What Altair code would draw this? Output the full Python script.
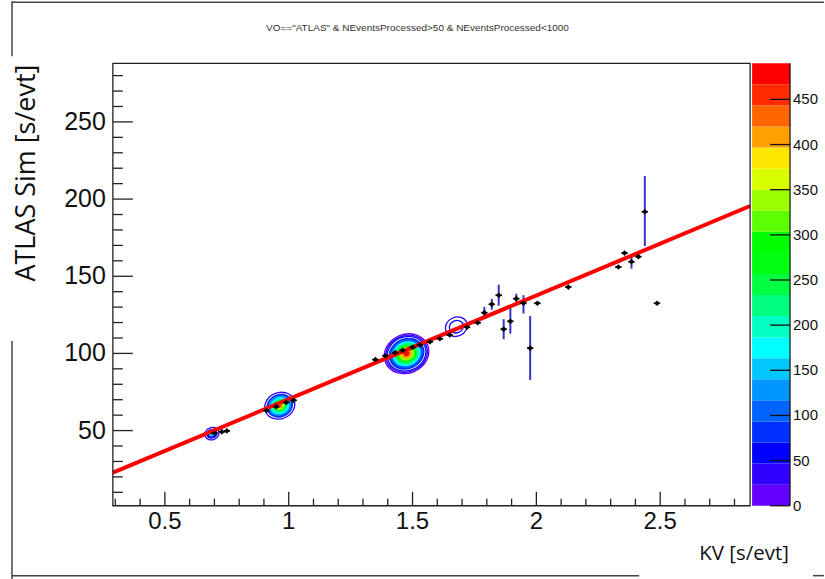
import altair as alt
import pandas as pd

TITLE = 'VO=="ATLAS" & NEventsProcessed>50 & NEventsProcessed<1000'
Y_TITLE = "ATLAS Sim [s/evt]"
X_TITLE = "KV [s/evt]"

# profile bins away from the dense clusters (mean, lower and upper error)
prof_x = [1.763, 1.790, 1.820, 1.848, 1.868, 1.895, 1.919, 1.948, 1.975, 2.004,
          2.129, 2.331, 2.356, 2.384, 2.412, 2.438, 2.487]
prof_y = [119.9, 126.4, 131.8, 137.7, 115.7, 120.8, 135.5, 132.5, 103.4, 132.5,
          143.0, 156.0, 165.0, 159.4, 162.7, 191.8, 132.5]
prof_lo = [119.9, 122.6, 128.3, 130.9, 109.2, 112.8, 132.3, 125.8, 82.7, 132.5,
           143.0, 156.0, 165.0, 154.9, 162.7, 169.6, 132.5]
prof_hi = [119.9, 130.2, 135.3, 144.5, 122.2, 130.7, 138.7, 137.7, 124.3, 132.5,
           143.0, 156.0, 165.0, 163.6, 162.7, 214.9, 132.5]

# profile bins sitting on the dense clusters
dense_x = [0.70, 0.73, 0.75, 0.91, 0.95, 0.99, 1.02, 1.35, 1.39, 1.43, 1.46,
           1.50, 1.53, 1.57, 1.61, 1.65, 1.72]
dense_y = [48.3, 49.2, 49.8, 63.0, 65.5, 68.2, 69.6, 96.0, 98.5, 100.5, 102.0,
           104.0, 105.5, 107.5, 109.5, 112.0, 117.0]

# linear fit
fit_x = [0.29, 2.863]
fit_y = [22.7, 195.5]

# 2D density clusters: centre, contour half-width (in KV units), level, filled
c1_hw = [0.029, 0.023, 0.013]
c1_z = [30, 60, 150]
c1_fill = [False, True, True]
c2_hw = [0.062, 0.055, 0.047, 0.039, 0.030, 0.020, 0.010]
c2_z = [30, 70, 130, 175, 250, 330, 420]
c2_fill = [False, True, True, True, True, True, True]
c3_hw = [0.092, 0.086, 0.080, 0.074, 0.066, 0.058, 0.050, 0.041, 0.032, 0.022, 0.012]
c3_z = [20, 35, 50, 75, 115, 165, 215, 275, 345, 405, 470]
c3_fill = [False, False, False, True, True, True, True, True, True, True, True]
c4_hw = [0.045, 0.029]
c4_z = [30, 50]
c4_fill = [False, False]
blob_x = [0.690, 0.964, 1.476, 1.677]
blob_y = [48.0, 66.1, 99.8, 117.3]

# colour palette levels (bottom to top)
cbar_edges = [0, 23.3, 46.7, 70, 93.3, 116.7, 140, 163.3, 186.7, 210, 233.3,
              256.7, 280, 303.3, 326.7, 350, 373.3, 396.7, 420, 443.3, 466.7, 490]
cbar_colors = ["#6400ff", "#3000ff", "#0000ff", "#0030ff", "#0064ff", "#0096ff",
               "#00c8ff", "#00ffff", "#00ffc0", "#00ff80", "#00ff40", "#00ff10",
               "#00ff00", "#5cff00", "#9cff00", "#d8ff00", "#ffe600", "#ffa000",
               "#ff6600", "#ff2a00", "#ff0000"]
cbar_ticks = [0, 50, 100, 150, 200, 250, 300, 350, 400, 450]

# axis tick positions
x_major = [0.5, 1.0, 1.5, 2.0, 2.5]
x_minor = [0.3, 0.4, 0.6, 0.7, 0.8, 0.9, 1.1, 1.2, 1.3, 1.4, 1.6, 1.7, 1.8, 1.9,
           2.1, 2.2, 2.3, 2.4, 2.6, 2.7, 2.8]
y_major = [50, 100, 150, 200, 250]
y_minor = [10, 20, 30, 40, 60, 70, 80, 90, 110, 120, 130, 140, 160, 170, 180, 190,
           210, 220, 230, 240, 260, 270, 280]

W, H = 638, 443
FONT = "Liberation Sans"
X0, X1 = 0.29, 2.863    # horizontal range of the pad
Y0, Y1 = 1.3, 288.0     # vertical range of the pad
Z1 = 490.0              # top of the colour scale

# ---------------- tables ----------------
prof = pd.DataFrame({"x": prof_x, "y": prof_y, "lo": prof_lo, "hi": prof_hi})
dense = pd.DataFrame({"x": dense_x, "y": dense_y})
pts = pd.concat([prof[["x", "y"]], dense], ignore_index=True)
fit = pd.DataFrame({"x": fit_x, "y": fit_y})

rows = []
for i, (hws, zs_, fills_) in enumerate([(c1_hw, c1_z, c1_fill), (c2_hw, c2_z, c2_fill),
                                        (c3_hw, c3_z, c3_fill), (c4_hw, c4_z, c4_fill)]):
    for hw, z, f in zip(hws, zs_, fills_):
        rows.append({"x": blob_x[i], "y": blob_y[i], "hw": hw, "z": z, "fill": f})
cont = pd.DataFrame(rows)
cont_fill = cont[cont["fill"]]
cont_line = cont[~cont["fill"]]

cbar = pd.DataFrame({"zlo": cbar_edges[:-1], "zhi": cbar_edges[1:], "col": cbar_colors})
one = pd.DataFrame({"k": [0]})

# inward tick segments: two end points per tick, joined by a short line
tick_rows = []
for name, vals, px, axis in [("xM", x_major, 14, "x"), ("xm", x_minor, 7, "x"),
                             ("yM", y_major, 20, "y"), ("ym", y_minor, 10, "y")]:
    for v in vals:
        if axis == "x":
            tick_rows.append({"id": f"{name}{v}", "x": v, "y": Y0})
            tick_rows.append({"id": f"{name}{v}", "x": v, "y": Y0 + px * (Y1 - Y0) / H})
        else:
            tick_rows.append({"id": f"{name}{v}", "x": X0, "y": v})
            tick_rows.append({"id": f"{name}{v}", "x": X0 + px * (X1 - X0) / W, "y": v})
tick_df = pd.DataFrame(tick_rows)

# ---------------- scales ----------------
xs = alt.Scale(domain=[X0, X1], nice=False, zero=False)
ys = alt.Scale(domain=[Y0, Y1], nice=False, zero=False)
size_s = alt.Scale(type="pow", exponent=2, domain=[0, 0.1], range=[0, 2460], zero=True, nice=False)
col_s = alt.Scale(type="threshold", domain=cbar_edges[1:-1], range=cbar_colors)


def X(f="x"):
    return alt.X(f + ":Q", scale=xs, axis=None)


def Y(f="y"):
    return alt.Y(f + ":Q", scale=ys, axis=None)


# colour-scale values are placed on the pad's vertical range
ZMAP = f"{Y0} + ({Y1} - {Y0}) * datum.{{}} / {Z1}"

ELLIPSE = "M-1,0A1,0.85,0,1,1,1,0A1,0.85,0,1,1,-1,0Z"

# ---------------- canvas and frame ----------------
background = alt.Chart(one).mark_rect(opacity=0).encode(
    x=alt.value(-113), x2=alt.value(712), y=alt.value(-62), y2=alt.value(517))


def seg(x1, x2, y1, y2):
    return alt.Chart(one).mark_rule(color="#444", strokeWidth=1.5).encode(
        x=alt.value(x1), x2=alt.value(x2), y=alt.value(y1), y2=alt.value(y2))


frame = [
    seg(-101, 712, -61, -61),
    seg(-101, -101, -62, -7),
    seg(-101, -101, 278, 517),
    seg(-101, 527, 513, 513),
    seg(701, 712, 513, 513),
]

# ---------------- main plot ----------------
fills = alt.Chart(cont_fill).mark_point(shape=ELLIPSE, filled=True, opacity=1, angle=337).encode(
    x=X(), y=Y(),
    size=alt.Size("hw:Q", scale=size_s, legend=None),
    color=alt.Color("z:Q", scale=col_s, legend=None),
    order=alt.Order("hw:Q", sort="descending"),
)
lines = alt.Chart(cont_line).mark_point(shape=ELLIPSE, filled=False, opacity=1, angle=337,
                                        strokeWidth=1.3).encode(
    x=X(), y=Y(),
    size=alt.Size("hw:Q", scale=size_s, legend=None),
    color=alt.Color("z:Q", scale=col_s, legend=None),
)
errbars = alt.Chart(prof).mark_rule(color="#3535c8", strokeWidth=2).encode(
    x=X(), y=Y("lo"), y2="hi:Q")
fitline = alt.Chart(fit).mark_line(color="#ff0000", strokeWidth=4).encode(x=X(), y=Y())
xerr = alt.Chart(pts).transform_calculate(
    xa="datum.x - 0.013", xb="datum.x + 0.013"
).mark_rule(color="black", strokeWidth=1.6).encode(x=X("xa"), x2="xb:Q", y=Y())
markers = alt.Chart(pts).mark_point(shape="diamond", filled=True, color="black",
                                    opacity=1, size=32).encode(x=X(), y=Y())

ticks = alt.Chart(tick_df).mark_line(color="#222", strokeWidth=1.3).encode(
    x=X(), y=Y(), detail="id:N")

x_lab = alt.Chart(pd.DataFrame({"xl": x_major})).mark_text(
    font=FONT, fontSize=24, color="#111", align="center", baseline="top").encode(
    x=X("xl"), y=alt.value(H + 4), text=alt.Text("xl:Q", format="~g"))
y_lab = alt.Chart(pd.DataFrame({"yl": y_major})).mark_text(
    font=FONT, fontSize=25, color="#111", align="right", baseline="middle").encode(
    y=Y("yl"), x=alt.value(-7), text=alt.Text("yl:Q", format="d"))

# plot frame
box = alt.Chart(one).mark_rect(fillOpacity=0, stroke="#222", strokeWidth=1.3).encode(
    x=alt.value(0), x2=alt.value(W), y=alt.value(0), y2=alt.value(H))

# ---------------- colour bar ----------------
cbar_rect = alt.Chart(cbar).transform_calculate(
    ylo=ZMAP.format("zlo"), yhi=ZMAP.format("zhi")
).mark_rect().encode(
    x=alt.value(640), x2=alt.value(678),
    y=Y("ylo"), y2="yhi:Q",
    color=alt.Color("col:N", scale=None),
)
cbar_tick = alt.Chart(pd.DataFrame({"zt": cbar_ticks})).transform_calculate(
    yt=ZMAP.format("zt")
).mark_tick(orient="horizontal", size=20, thickness=1.3, color="#111", opacity=1).encode(
    y=Y("yt"), x=alt.value(668))
cbar_edge = alt.Chart(one).mark_rule(color="#111", strokeWidth=1.2).encode(
    x=alt.value(678), y=alt.value(0), y2=alt.value(H))
cbar_lab = alt.Chart(pd.DataFrame({"zl": cbar_ticks})).transform_calculate(
    yl=ZMAP.format("zl")
).mark_text(font=FONT, fontSize=15, color="#111", align="left", baseline="middle").encode(
    y=Y("yl"), x=alt.value(681), text=alt.Text("zl:Q", format="d"))

# ---------------- texts ----------------
title = alt.Chart(one).mark_text(text=TITLE, font=FONT, fontSize=10, color="#333",
                                 align="center", baseline="middle").encode(
    x=alt.value(305), y=alt.value(-35))
ytitle = alt.Chart(one).mark_text(text=Y_TITLE, font="Open Sans", fontSize=27, color="#111",
                                  angle=270, align="center", baseline="middle").encode(
    x=alt.value(-86), y=alt.value(110))
xtitle = alt.Chart(one).mark_text(text=X_TITLE, font="Open Sans", fontSize=20.5, color="#111",
                                  align="center", baseline="middle").encode(
    x=alt.value(632), y=alt.value(491))

chart = alt.layer(
    background, *frame,
    fills, lines, errbars, fitline, xerr, markers, ticks,
    x_lab, y_lab, box,
    cbar_rect, cbar_tick, cbar_edge, cbar_lab,
    title, ytitle, xtitle,
).properties(width=W, height=H, padding=0).configure_view(stroke=None)

chart.save("out.html", embed_options={"renderer": "svg", "actions": False})
